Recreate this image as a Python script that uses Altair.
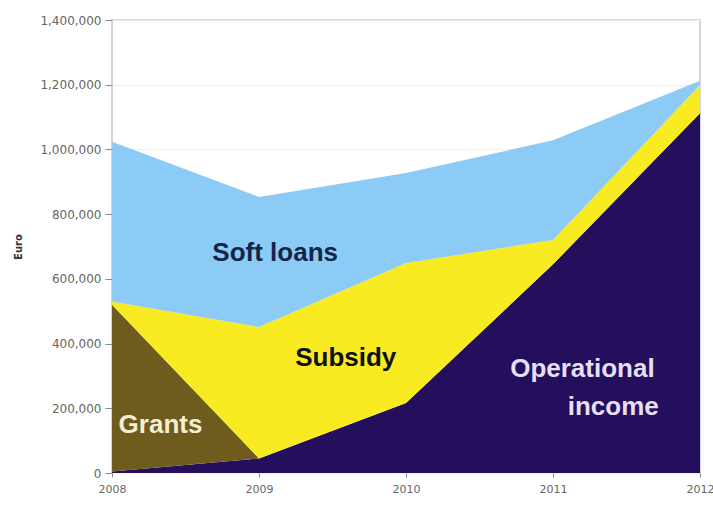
import altair as alt
import pandas as pd

years = [2008, 2009, 2010, 2011, 2012]
series_names = ["Operational income", "Grants", "Subsidy", "Soft loans"]
operational = [5000, 45000, 216000, 645000, 1112000]
grants = [515000, 0, 0, 0, 0]
subsidy = [10000, 406000, 433000, 75000, 87000]
soft_loans = [494000, 402000, 278000, 308000, 13000]
colors = ["#240F5C", "#6E5B1E", "#F8EB22", "#8BCBF6"]

label_text = ["Soft loans", "Subsidy", "Grants", "Operational", "income"]
label_year = [2009.11, 2009.59, 2008.33, 2011.20, 2011.41]
label_value = [680000, 355000, 147000, 320000, 205000]
label_color = ["#16244A", "#111111", "#F4EED2", "#E6DFF2", "#E6DFF2"]

rows = []
for name, vals in zip(series_names, [operational, grants, subsidy, soft_loans]):
    for y, v in zip(years, vals):
        rows.append({"year": y, "series": name, "value": v,
                     "order": series_names.index(name)})
df = pd.DataFrame(rows)

labels = pd.DataFrame({"text": label_text, "year": label_year,
                       "value": label_value, "color": label_color})

x_scale = alt.Scale(domain=[2008, 2012], nice=False, zero=False)
y_scale = alt.Scale(domain=[0, 1400000], nice=False)

area = alt.Chart(df).mark_area(interpolate="linear", opacity=1).encode(
    x=alt.X("year:Q", scale=x_scale,
            axis=alt.Axis(values=years, format="d", title=None, grid=False,
                          labelFont="DejaVu Sans", labelFontSize=11,
                          labelColor="#666666", tickColor="#888888",
                          tickSize=4, domain=False, labelPadding=6,
                          labelFlush=False)),
    y=alt.Y("value:Q", stack="zero", scale=y_scale,
            axis=alt.Axis(values=[0, 200000, 400000, 600000, 800000,
                                  1000000, 1200000, 1400000],
                          format=",d", title="Euro", grid=True,
                          gridColor="#f0f0f0", labelFont="DejaVu Sans",
                          labelFontSize=12, labelColor="#666666",
                          tickColor="#888888", tickSize=7, domain=False,
                          labelPadding=4,
                          titleFont="DejaVu Sans", titleFontSize=10,
                          titleFontWeight="bold", titleColor="#333333",
                          titlePadding=16)),
    color=alt.Color("series:N",
                    scale=alt.Scale(domain=series_names, range=colors),
                    legend=None),
    order=alt.Order("order:Q", sort="ascending"),
)

text = alt.Chart(labels).mark_text(
    font="Liberation Sans", fontSize=26, fontWeight="bold", align="center",
    baseline="middle"
).encode(
    x=alt.X("year:Q", scale=x_scale),
    y=alt.Y("value:Q", scale=y_scale),
    text="text:N",
    color=alt.Color("color:N", scale=None),
)

chart = alt.layer(area, text).properties(
    width=588, height=453,
    autosize=alt.AutoSizeParams(type="none"),
    padding={"left": 112, "top": 20, "right": 13, "bottom": 38},
    background="white",
).configure_view(stroke="#c8c8c8", strokeWidth=1.5)

chart.save("out.html", embed_options={"renderer": "svg", "actions": False})
